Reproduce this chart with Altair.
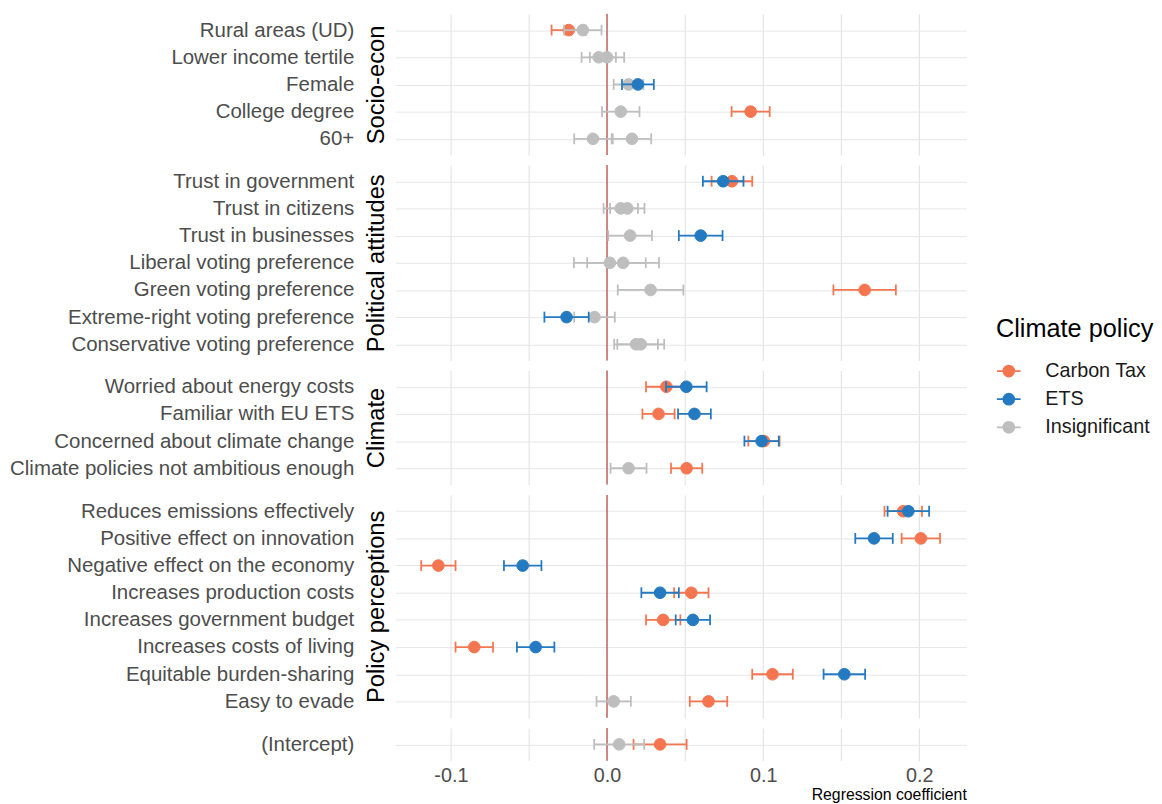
import altair as alt
import pandas as pd

# ---------------- data ----------------
variables = [
    "Rural areas (UD)", "Lower income tertile", "Female", "College degree", "60+",
    "Trust in government", "Trust in citizens", "Trust in businesses",
    "Liberal voting preference", "Green voting preference",
    "Extreme-right voting preference", "Conservative voting preference",
    "Worried about energy costs", "Familiar with EU ETS",
    "Concerned about climate change", "Climate policies not ambitious enough",
    "Reduces emissions effectively", "Positive effect on innovation",
    "Negative effect on the economy", "Increases production costs",
    "Increases government budget", "Increases costs of living",
    "Equitable burden-sharing", "Easy to evade",
    "(Intercept)",
]
panels = (["Socio-econ"] * 5 + ["Political attitudes"] * 7 + ["Climate"] * 4
          + ["Policy perceptions"] * 8 + ["Intercept"])

ct_est = [-0.0245, -0.0053, 0.0138, 0.0920, -0.0090,
          0.0800, 0.0088, 0.0148, 0.0018, 0.1650, -0.0080, 0.0186,
          0.0380, 0.0330, 0.1005, 0.0510,
          0.1897, 0.2010, -0.1080, 0.0540, 0.0360, -0.0850, 0.1060, 0.0650,
          0.0340]
ct_half = [0.0110, 0.0110, 0.0095, 0.0122, 0.0120,
           0.0130, 0.0110, 0.0140, 0.0230, 0.0200, 0.0130, 0.0140,
           0.0130, 0.0103, 0.0100, 0.0100,
           0.0120, 0.0123, 0.0110, 0.0110, 0.0110, 0.0120, 0.0130, 0.0120,
           0.0170]
ct_sig = [True, False, False, True, False,
          True, False, False, False, True, False, False,
          True, True, True, True,
          True, True, True, True, True, True, True, True,
          True]

ets_est = [-0.0155, 0.0000, 0.0198, 0.0088, 0.0160,
           0.0744, 0.0130, 0.0600, 0.0103, 0.0279, -0.0259, 0.0216,
           0.0508, 0.0560, 0.0990, 0.0138,
           0.1930, 0.1710, -0.0540, 0.0340, 0.0550, -0.0457, 0.1520, 0.0043,
           0.0078]
ets_half = [0.0120, 0.0110, 0.0102, 0.0120, 0.0123,
            0.0130, 0.0110, 0.0140, 0.0230, 0.0210, 0.0142, 0.0150,
            0.0130, 0.0105, 0.0110, 0.0115,
            0.0133, 0.0120, 0.0120, 0.0120, 0.0110, 0.0120, 0.0133, 0.0110,
            0.0160]
ets_sig = [False, False, True, False, False,
           True, False, True, False, False, True, False,
           True, True, True, False,
           True, True, True, True, True, True, True, False,
           False]

panel_order = ["Socio-econ", "Political attitudes", "Climate", "Policy perceptions", "Intercept"]
legend_labels = ["Carbon Tax", "ETS", "Insignificant"]
legend_colors = ["#F47651", "#247AC1", "#BEBEBE"]
x_ticks = [-0.1, -0.05, 0.0, 0.05, 0.1, 0.15, 0.2]

# ---------------- build table ----------------
rows = []
for i, v in enumerate(variables):
    rows.append(dict(variable=v, panel=panels[i], model="Carbon Tax",
                     est=ct_est[i], lo=ct_est[i] - ct_half[i], hi=ct_est[i] + ct_half[i],
                     sig="Carbon Tax" if ct_sig[i] else "Insignificant"))
    rows.append(dict(variable=v, panel=panels[i], model="ETS",
                     est=ets_est[i], lo=ets_est[i] - ets_half[i], hi=ets_est[i] + ets_half[i],
                     sig="ETS" if ets_sig[i] else "Insignificant"))
df = pd.DataFrame(rows)
df["col"] = df["sig"].map(dict(zip(legend_labels, legend_colors)))

FONT = "Liberation Sans"
STEP = 27.5
PAD = 0.6
WIDTH = 578
LINE_W = 1.8
ZERO_COLOR = "#B5423F"

xscale = alt.Scale(domain=[-0.1356, 0.2301], nice=False, zero=False)
cscale = alt.Scale(domain=legend_labels, range=legend_colors)

leg_path = "M-1,0L1,0M0.46,0A0.46,0.46,0,1,1,-0.46,0A0.46,0.46,0,1,1,0.46,0Z"
legend = alt.Legend(title="Climate policy", orient="none", legendX=608, legendY=307,
                    padding=0,
                    symbolType=leg_path, symbolSize=576, symbolStrokeWidth=LINE_W,
                    labelOffset=24, rowPadding=5.5, titlePadding=16,
                    titleFontSize=25.6, titleFont=FONT, titleFontWeight="normal",
                    titleColor="#000000", labelFontSize=20, labelFont=FONT,
                    labelColor="#1a1a1a")

label_expr = ("round(datum.value*100) % 10 == 0 ? "
              "replace(format(datum.value, '.1f'), '\u2212', '-') : ''")


def make_panel(p, bottom):
    order = [v for v, q in zip(variables, panels) if q == p]
    n = len(order)
    h = (n - 1 + 2 * PAD) * STEP
    yaxis = alt.Axis(title=(None if p == "Intercept" else p), titleX=-19, titleY=h / 2,
                     titleAngle=270, titleAlign="center", titleBaseline="middle",
                     titleFontSize=24, titleFont=FONT, titleFontWeight="normal",
                     titleColor="#000000", labelFontSize=20.7, labelFont=FONT,
                     labelColor="#4D4D4D", labelPadding=42, labelLimit=600,
                     domain=False, ticks=False, grid=True, gridColor="#E6E6E6",
                     gridWidth=1)
    if bottom:
        xaxis = alt.Axis(values=x_ticks, labelExpr=label_expr, title="Regression coefficient",
                         titleAnchor="end", titleFontSize=16, titleFont=FONT,
                         titleFontWeight="normal", titleColor="#000000", titlePadding=1,
                         labelFontSize=20, labelFont=FONT, labelColor="#4D4D4D",
                         labelPadding=5, domain=False, ticks=False, grid=True,
                         gridColor="#E0E0E0", gridWidth=1)
    else:
        xaxis = alt.Axis(values=x_ticks, labels=False, title=None, domain=False,
                         ticks=False, grid=True, gridColor="#E0E0E0", gridWidth=1)

    Y = alt.Y("variable:N", sort=order, scale=alt.Scale(type="point", padding=PAD), axis=yaxis)
    base = alt.Chart(df).transform_filter(alt.datum.panel == p)

    layers = [
        alt.Chart().mark_rule(strokeWidth=1.2).encode(
            x=alt.datum(0, scale=xscale, axis=xaxis),
            color=alt.value(ZERO_COLOR)),
    ]
    for m in ["Carbon Tax", "ETS"]:
        b = base.transform_filter(alt.datum.model == m)
        col = alt.Color("col:N", scale=None)
        layers.append(b.mark_rule(strokeWidth=LINE_W, opacity=1).encode(
            x=alt.X("lo:Q", scale=xscale, axis=xaxis), x2="hi:Q", y=Y, color=col))
        layers.append(b.mark_tick(size=11, thickness=LINE_W, opacity=1).encode(
            x=alt.X("lo:Q", scale=xscale, axis=xaxis), y=Y, color=col))
        layers.append(b.mark_tick(size=11, thickness=LINE_W, opacity=1).encode(
            x=alt.X("hi:Q", scale=xscale, axis=xaxis), y=Y, color=col))
        layers.append(b.mark_circle(size=140, opacity=1, strokeWidth=1).encode(
            x=alt.X("est:Q", scale=xscale, axis=xaxis), y=Y,
            fill=alt.Fill("sig:N", scale=cscale, legend=legend),
            stroke=alt.Stroke("sig:N", scale=cscale, legend=legend)))
    return alt.layer(*layers).properties(width=WIDTH, height=alt.Step(STEP))


charts = [make_panel(p, i == len(panel_order) - 1) for i, p in enumerate(panel_order)]

chart = (
    alt.vconcat(*charts, spacing=8.0)
    .resolve_scale(x="independent", y="independent", fill="shared", stroke="shared")
    .properties(padding={"left": 1, "top": 0, "right": 0, "bottom": 0}, background="white")
    .configure_view(stroke=None)
    .configure_axis(labelFont=FONT, titleFont=FONT)
)

chart.save("out.html", embed_options={"renderer": "svg", "actions": False})
